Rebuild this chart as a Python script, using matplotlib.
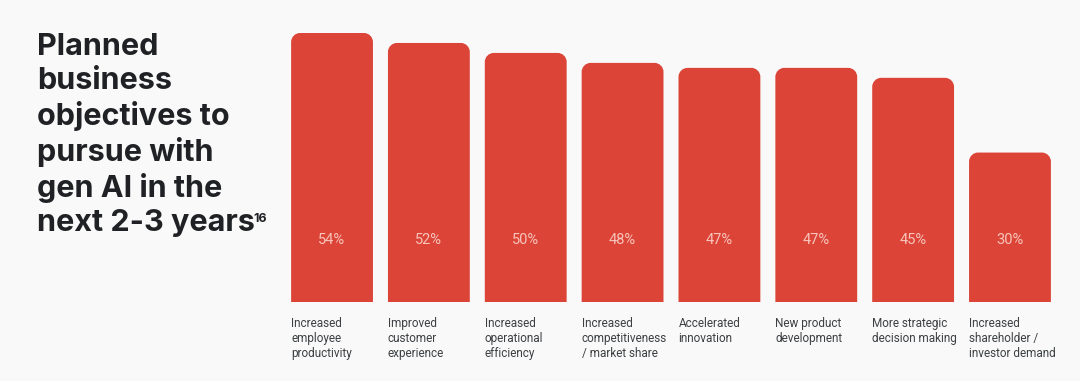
import matplotlib
matplotlib.use("Agg")
import matplotlib.pyplot as plt
from matplotlib.path import Path
from matplotlib.patches import PathPatch
from matplotlib.transforms import IdentityTransform

categories = [
    "Increased\nemployee\nproductivity",
    "Improved\ncustomer\nexperience",
    "Increased\noperational\nefficiency",
    "Increased\ncompetitiveness\n/ market share",
    "Accelerated\ninnovation",
    "New product\ndevelopment",
    "More strategic\ndecision making",
    "Increased\nshareholder /\ninvestor demand",
]
values = [54, 52, 50, 48, 47, 47, 45, 30]
value_labels = ["54%", "52%", "50%", "48%", "47%", "47%", "45%", "30%"]

W, H, DPI = 10.8, 3.81, 100
BG = "#f9f9f9"
RED = "#db4437"

fig = plt.figure(figsize=(W, H), dpi=DPI, facecolor=BG)
ax = fig.add_axes([283.6 / 1080, 79 / 381, 774.8 / 1080, 269 / 381])
ax.set_facecolor(BG)
ax.set_xlim(-0.5, len(values) - 0.5)
ax.set_ylim(0, 54)
ax.axis("off")

bars = ax.bar(range(len(values)), values, width=0.845, color=RED)
fig.canvas.draw()
r = 9.0
for b in bars:
    bb = b.get_window_extent()
    x0, y0, x1, y1 = bb.x0, bb.y0, bb.x1, bb.y1
    k = 0.5523 * r
    verts = [
        (x0, y0), (x0, y1 - r),
        (x0, y1 - r + k), (x0 + r - k, y1), (x0 + r, y1),
        (x1 - r, y1),
        (x1 - r + k, y1), (x1, y1 - r + k), (x1, y1 - r),
        (x1, y0), (x0, y0),
    ]
    codes = [Path.MOVETO, Path.LINETO,
             Path.CURVE4, Path.CURVE4, Path.CURVE4,
             Path.LINETO,
             Path.CURVE4, Path.CURVE4, Path.CURVE4,
             Path.LINETO, Path.CLOSEPOLY]
    patch = PathPatch(Path(verts, codes), facecolor=RED, edgecolor="none",
                      transform=IdentityTransform(), zorder=1)
    patch.set_clip_on(False)
    ax.add_artist(patch)
    b.set_visible(False)

for i, (v, lab) in enumerate(zip(values, value_labels)):
    ax.text(i, 12.4, lab, ha="center", va="center", color="#f8c4bb",
            fontsize=10.5, family="Roboto", zorder=3)

for i, c in enumerate(categories):
    x = i - 0.845 / 2
    ax.text(x, -3.0, c, ha="left", va="top", color="#3c4043",
            fontsize=8.5, family="Roboto", linespacing=1.2)

title = "Planned\nbusiness\nobjectives to\npursue with\ngen AI in the\nnext 2-3 years"
t = fig.text(37 / 1080, 1 - 33 / 381, title, ha="left", va="top", fontsize=22,
             fontweight="bold", family="Inter", color="#202124", linespacing=1.255)
fig.canvas.draw()
tb = t.get_window_extent()
fig.text((tb.x1 - 1) / 1080, 1 - 213 / 381, "16", ha="left", va="top", fontsize=9,
         fontweight="bold", family="Inter", color="#202124")

fig.savefig("out.png", dpi=DPI, facecolor=BG)
